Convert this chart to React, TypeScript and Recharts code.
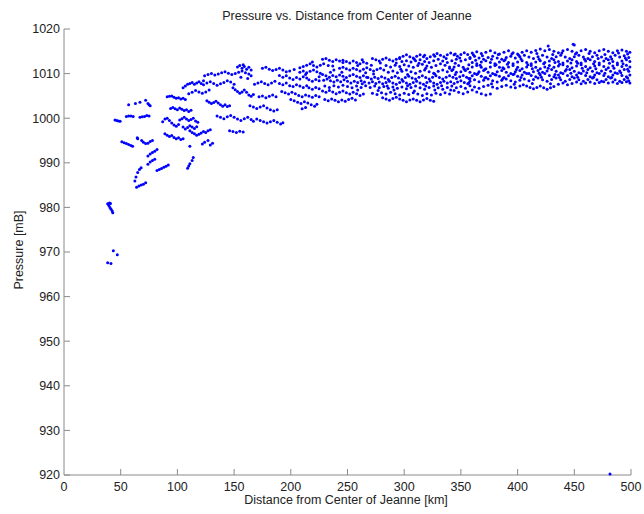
import React from 'react';
import { ScatterChart, Scatter, XAxis, YAxis, Label } from 'recharts';

type P = [number, number];

// Innermost observations (close to the storm center)
const coreObservations: P[] = [
  [38.5,980.8],[39.5,980.4],[40.5,980],[41.5,979.6],[42.5,979.2],[43,978.8],[40,981],[41,980.9],
  [43.5,970.3],[47,969.4],[38.5,967.6],[41.4,967.4],
  [45,999.6],[46.5,999.5],[48,999.4],[49.5,999.3],
  [55,1000.4],[57,1000.5],[59,1000.5],[61,1000.4],
  [67,1000.2],[69,1000.3],[71,1000.4],[73,1000.6],[75,1000.5],
  [57,1003],[63,1003.3],[67,1003.6],[72,1004],[74,1003.3],[75,1003],[76,1002.8],
  [51,994.7],[53,994.5],[55,994.3],[57,994.1],[59,993.9],[60.5,993.7],
  [64.6,995.6],[65,995.4],[68.5,995],[70,994.6],[72,994.3],[74,994.4],[76,994.8],[78,995],
  [74,991.5],[76,992],[78,992.3],[80,992.6],[82,993],
  [74,989.7],[76,990.2],[78,990.5],[80,990.8],
  [82,988.3],[84,988.5],[86,988.7],[88,989],[90,989.2],[92,989.5],
  [62.5,985.9],[63.5,986.8],[65,987.8],[66.5,988.5],[68,988.9],
  [64,984.5],[66,984.8],[68,985],[70,985.2],[72,985.5],
  [109,988.8],[110,989.3],[111,989.8],[113,990.5],[114,991.2],[111,993.7],
];

// Band from roughly 85 to 230 km
const innerBand: P[] = [
  [91,1004.8],[93,1004.9],[95,1005],[97,1004.7],[99,1004.5],[101,1004.6],[103,1004.3],[105,1004.5],[107,1004.2],
  [105,1006.8],[107,1007.2],[109,1007.6],[111,1007.8],[113,1008],[115,1007.6],[117,1007.9],[119,1008.2],[121,1007.8],[123,1008.4],
  [94,1002.2],[96,1002.4],[98,1002.1],[100,1001.9],[102,1002.3],[104,1002],[106,1001.7],[108,1001.9],[110,1001.5],[112,1001.8],
  [87,999.2],[89,999.8],[91,1000],[93,999.5],[95,998.9],[97,998.5],[99,998.2],[101,998.6],
  [102,999.6],[104,999.9],[106,1000.2],[108,999.8],[110,999.5],[112,999.7],[114,1000],[116,999.4],[118,999.1],
  [105,998],[107,997.6],[109,997.9],[111,998.3],[113,998],[115,997.7],[117,998.1],
  [89,996.5],[91,996.2],[93,995.9],[95,996.1],[97,995.7],[99,995.4],[101,995.6],[103,995.2],[105,995.4],
  [111,997.2],[113,996.8],[115,996.5],[117,996.2],[119,996.4],[121,996.7],[123,997],[125,996.8],[127,997.2],[129,997.4],
  [122,994.2],[124,994.6],[127,995],[129,994],[131,994.4],
  [124,1009.5],[127,1009.8],[130,1010],[133,1009.7],[136,1009.9],[139,1010.2],[142,1010.4],[145,1010.1],[148,1009.8],[151,1010],[154,1010.3],[157,1010.6],[160,1010.2],[163,1009.9],
  [153,1011.5],[155,1011.8],[157,1011.2],[159,1011.6],[161,1011],[163,1011.4],[165,1010.8],[158,1012],[156,1009.2],[162,1008.9],[165,1009.5],
  [123,1007.5],[126,1007.9],[129,1008.2],[132,1007.8],[135,1007.4],[138,1007.7],[141,1008],[144,1008.4],[147,1008.1],[150,1007.6],
  [110,1005.5],[113,1005.8],[116,1006.2],[119,1005.9],[122,1005.6],[125,1005.9],[128,1006.3],
  [126,1003.9],[128,1003.6],[130,1003.3],[132,1003.5],[134,1003.8],[136,1003.4],[138,1003],[140,1002.7],[142,1003],[144,1002.6],[146,1002.8],
  [135,1000.5],[138,1000.2],[141,999.9],[144,1000.3],[147,1000.6],[150,1000.2],[153,999.8],[156,999.5],[159,999.9],[162,1000.2],[165,999.7],[167,999.3],
  [149,1006.8],[151,1006.4],[153,1006],[155,1005.6],[157,1005.9],[159,1006.3],[161,1005.8],[163,1005.2],[165,1004.9],[167,1005.3],
  [164,1002.8],[167,1002.5],[170,1002.2],[173,1002.5],[176,1002.8],[179,1002.3],[182,1001.9],[185,1001.6],[188,1001.9],
  [170,999.8],[173,999.5],[176,999.2],[179,998.9],[182,999.2],[185,999.5],[188,999.1],[191,998.7],[193,999],
  [146,997.2],[149,997],[152,996.8],[155,997.1],[158,996.9],
  [175,1011.2],[178,1011.4],[181,1011],[184,1010.7],[187,1010.9],[190,1011.2],[193,1010.8],[196,1010.4],[199,1010.6],
  [190,1009.6],[193,1009.2],[196,1009.5],[199,1009],[202,1008.7],[205,1009.1],[208,1008.8],[211,1009.3],[214,1009],
  [190,1007.8],[193,1007.5],[196,1007.9],[199,1007.3],[202,1007.1],[205,1007.5],[208,1007.2],[211,1006.9],[214,1007.3],
  [192,1006],[195,1005.7],[198,1005.4],[201,1005.8],[204,1005.5],[207,1005.1],[210,1004.8],[213,1005.2],
  [200,1004.2],[203,1003.9],[206,1003.6],[209,1003.3],[212,1003.7],[215,1003.4],[218,1003],[221,1002.7],[223,1003.1],
  [208,1011.3],[211,1011.6],[214,1011.9],[217,1012.2],[220,1011.8],[223,1011.5],[226,1011.9],
  [168,1007.6],[171,1007.9],[174,1008.2],[177,1007.8],[180,1007.5],[183,1007.9],[186,1008.3],
  [172,1004.8],[175,1005],[178,1004.6],[181,1004.9],[184,1005.2],[187,1004.8],
];

// Band from roughly 200 to 360 km
const middleBand: P[] = [
  [228,1013.2],[231,1013.4],[234,1013],[237,1012.7],[240,1013.1],[243,1012.8],[246,1012.5],
  [246,1013],[249,1012.7],[252,1012.4],[255,1012.8],[258,1012.5],[261,1012.2],[264,1012.6],[267,1012.3],
  [272,1013.4],[275,1013.1],[278,1012.8],[281,1013.2],[284,1013.5],[287,1013.1],[290,1012.8],[293,1013.2],[296,1013.4],
  [246,1011.4],[249,1011.1],[252,1010.8],[255,1011.2],[258,1010.9],[261,1010.6],[264,1011],[267,1011.3],[270,1010.9],[273,1010.6],[276,1010.9],[279,1011.2],[282,1010.8],
  [208,1010.3],[211,1010.6],[214,1010.2],[217,1010.5],[220,1010.8],[223,1010.4],[226,1010.1],
  [216,1008.6],[219,1008.3],[222,1008.7],[225,1008.4],
  [216,1006.8],[219,1006.5],[222,1006.9],[225,1006.6],
  [216,1005],[219,1004.7],[222,1005.1],[225,1004.8],
  [210,1002.1],[213,1002.4],
  [228,1009.8],[231,1009.5],[234,1009.2],[237,1009.6],[240,1009.3],[243,1009.7],[246,1009.4],[249,1009.1],[252,1009.5],[255,1009.8],[258,1009.4],[261,1009.1],[264,1009.5],[267,1009.2],
  [229,1008.5],[232,1008.8],[235,1008.4],[238,1008.1],[241,1008.5],[244,1008.2],[247,1008.6],[250,1008.3],[253,1007.9],[256,1008.3],[259,1008],[262,1008.4],[265,1008.1],
  [228,1006.1],[231,1005.8],[234,1006.2],[237,1005.9],[240,1005.5],[243,1005.8],[246,1006.1],[249,1005.7],[252,1005.4],[255,1005.8],[258,1005.5],[261,1005.1],[264,1005.4],
  [230,1004.2],[233,1003.9],[236,1004.3],[239,1004],[242,1003.7],[245,1004.1],[248,1003.8],[251,1004.2],[254,1004.5],[257,1004.1],
  [230,1007.2],[234,1006.9],[238,1007.3],[242,1007],[246,1007.4],[250,1007.1],[254,1006.8],[258,1007.2],[262,1006.9],[266,1007.3],
  [268,1009.1],[271,1008.8],[274,1009.2],[277,1008.9],[280,1009.3],[283,1009],[286,1008.7],[289,1009.1],[292,1009.4],[295,1009],[298,1008.7],[301,1009.1],[304,1009.4],[307,1009],[310,1008.8],[313,1009.2],[316,1009.5],[319,1009.1],[322,1008.8],[325,1009.2],[328,1009.5],[331,1009.1],[334,1008.8],[337,1009.2],[340,1009.5],[343,1009.2],[346,1008.9],[349,1009.3],[352,1009.6],[355,1009.2],[358,1008.9],
  [269,1007.9],[272,1008.2],[275,1007.8],[278,1008.1],[281,1007.7],[284,1008],[287,1008.3],[290,1007.9],[293,1007.6],[296,1008],[299,1008.3],[302,1007.9],[305,1007.6],[308,1008],[311,1008.3],[314,1007.9],[317,1007.6],[320,1008],[323,1008.3],[326,1007.9],[329,1007.6],[332,1008],[335,1008.3],[338,1007.9],[341,1008.2],[344,1007.8],[347,1008.1],[350,1008.4],[353,1008],[356,1007.7],
  [270,1006.9],[274,1007.2],[278,1006.8],[282,1007.1],[286,1006.7],[290,1007],[294,1006.7],[298,1007],[302,1006.6],[306,1006.9],[310,1007.2],[314,1006.8],[318,1006.5],[322,1006.9],[326,1007.2],[330,1006.8],[334,1006.5],[338,1006.9],[342,1007.2],[346,1006.8],[350,1007.1],[354,1006.7],
  [281,1004.6],[284,1004.3],[287,1004],[290,1004.4],[293,1004.7],[296,1004.3],[299,1004],[302,1003.7],[305,1004.1],
  [308,1004.3],[311,1004],[314,1003.7],[317,1004.1],[320,1004.4],[323,1004],[326,1003.8],
  [272,1005.6],[276,1005.3],[280,1005.7],[284,1005.4],[288,1005.8],[292,1005.5],[296,1005.2],[300,1005.6],[304,1005.3],[308,1005.7],[312,1005.4],[316,1005.1],[320,1005.5],[324,1005.2],[328,1005.6],[332,1005.3],[336,1005.7],[340,1005.4],
  [284,1011.8],[288,1011.5],[292,1011.9],[296,1011.6],[300,1012],[304,1011.7],[308,1011.4],[312,1011.8],[316,1012.1],[320,1011.7],[324,1011.4],[328,1011.8],[332,1012.2],[336,1011.9],[340,1011.5],
  [286,1010.3],[290,1010.6],[294,1010.2],[298,1010.5],[302,1010.8],[306,1010.4],[310,1010.1],[314,1010.5],[318,1010.8],[322,1010.4],[326,1010.1],[330,1010.5],[334,1010.8],[338,1010.4],[342,1010.7],[346,1010.3],
  [296,1013.6],[299,1013.9],[302,1014.2],[305,1013.8],[308,1013.5],[311,1013.9],[314,1014.2],[317,1013.8],[320,1013.4],[323,1013.8],[326,1014.2],[329,1014.5],[332,1014.1],[335,1013.8],[338,1014.2],[341,1014.6],[344,1014.2],[347,1013.9],[350,1014.3],[353,1014.7],[356,1014.3],
  [298,1012.7],[302,1012.9],[306,1012.6],[310,1012.9],[314,1013.1],[318,1012.7],[322,1012.5],[326,1012.9],[330,1013.2],[334,1012.8],[338,1012.5],[342,1012.9],[346,1013.2],[350,1012.8],[354,1013.1],[358,1013.4],
];

// Outer band from roughly 340 to 500 km
const outerBand: P[] = [
  [360,1014.6],[364,1014.9],[368,1014.5],[372,1014.8],[376,1015.1],[380,1014.7],[384,1014.4],[388,1014.8],[392,1015.1],[396,1014.7],[400,1014.4],[404,1014.8],[408,1015.1],[412,1014.8],[416,1015.2],[420,1015.5],[424,1015.1],[428,1015.4],[432,1015],[436,1014.7],[440,1015.1],[444,1015.4],[448,1015],[452,1014.7],[456,1015.1],[460,1015.4],[464,1015],[468,1014.7],[472,1015.1],[476,1015.4],[480,1015],[484,1014.7],[488,1015.1],[492,1015.3],[496,1015],[499,1014.8],
  [358,1013.6],[362,1013.9],[366,1013.5],[370,1013.2],[374,1013.6],[378,1013.9],[382,1013.5],[386,1013.2],[390,1013.6],[394,1013.9],[398,1013.5],[402,1013.8],[406,1014.1],[410,1013.7],[414,1013.4],[418,1013.8],[422,1014.1],[426,1013.7],[430,1013.4],[434,1013.8],[438,1014.1],[442,1013.7],[446,1013.4],[450,1013.8],[454,1014.1],[458,1013.7],[462,1013.4],[466,1013.8],[470,1014.1],[474,1013.7],[478,1013.4],[482,1013.8],[486,1014.1],[490,1013.7],[494,1014],[498,1013.6],
  [360,1012.5],[364,1012.2],[368,1012.6],[372,1012.9],[376,1012.5],[380,1012.2],[384,1012.6],[388,1012.9],[392,1012.5],[396,1012.2],[400,1012.6],[404,1012.9],[408,1012.5],[412,1012.2],[416,1012.6],[420,1012.9],[424,1012.5],[428,1012.8],[432,1013.1],[436,1012.7],[440,1012.4],[444,1012.8],[448,1013.1],[452,1012.7],[456,1012.4],[460,1012.8],[464,1013.1],[468,1012.7],[472,1012.4],[476,1012.8],[480,1013.1],[484,1012.7],[488,1012.4],[492,1012.8],[496,1013.1],[499,1012.7],
  [340,1011.2],[344,1011.5],[348,1011.8],[352,1011.4],[356,1011.1],[360,1011.5],[364,1011.8],[368,1011.4],[372,1011.1],[376,1011.5],[380,1011.8],[384,1011.4],[388,1011.1],[392,1011.5],[396,1011.8],[400,1011.4],[404,1011.1],[408,1011.5],[412,1011.8],[416,1011.4],[420,1011.1],[424,1011.5],[428,1011.8],[432,1011.4],[436,1011.7],[440,1012],[444,1011.6],[448,1011.3],[452,1011.7],[456,1012],[460,1011.6],[464,1011.3],[468,1011.7],[472,1012],[476,1011.6],[480,1011.3],[484,1011.7],[488,1012],[492,1011.6],[496,1011.9],[499,1011.5],
  [350,1010.4],[354,1010.7],[358,1010.3],[362,1010],[366,1010.4],[370,1010.7],[374,1010.3],[378,1010],[382,1010.4],[386,1010.7],[390,1010.3],[394,1010],[398,1010.4],[402,1010.7],[406,1010.3],[410,1010],[414,1010.4],[418,1010.7],[422,1010.3],[426,1010.6],[430,1010.9],[434,1010.5],[438,1010.2],[442,1010.6],[446,1010.9],[450,1010.5],[454,1010.2],[458,1010.6],[462,1010.9],[466,1010.5],[470,1010.2],[474,1010.6],[478,1010.9],[482,1010.5],[486,1010.2],[490,1010.6],[494,1010.9],[498,1010.5],
  [360,1009.5],[364,1009.8],[368,1009.4],[372,1009.1],[376,1009.5],[380,1009.8],[384,1009.4],[388,1009.1],[392,1009.5],[396,1009.8],[400,1009.4],[404,1009.7],[408,1010],[412,1009.6],[416,1009.3],[420,1009.7],[424,1010],[428,1009.6],[432,1009.3],[436,1009.7],[440,1010],[444,1009.6],[448,1009.3],[452,1009.7],[456,1010],[460,1009.6],[464,1009.3],[468,1009.7],[472,1010],[476,1009.6],[480,1009.3],[484,1009.7],[488,1010],[492,1009.6],[496,1009.3],[499,1009.7],
  [358,1008.3],[362,1008.6],[366,1008.2],[370,1008.5],[374,1008.8],[378,1008.4],[382,1008.1],[386,1008.5],[390,1008.8],[394,1008.4],[398,1008.1],[402,1008.5],[406,1008.8],[410,1008.4],[414,1008.7],[418,1009],[422,1008.6],[426,1008.3],[430,1008.7],[434,1009],[438,1008.6],[442,1008.3],[446,1008.7],[450,1009],[454,1008.6],[458,1008.3],[462,1008.7],[466,1009],[470,1008.6],[474,1008.3],[478,1008.7],[482,1009],[486,1008.6],[490,1008.3],[494,1008.7],[498,1008.4],
  [460,1007.9],[464,1008.1],[468,1007.8],[472,1008],[476,1008.2],[480,1007.9],[484,1008.1],[488,1007.8],[492,1008],[496,1008.2],[499,1007.9],
  [344,1006.2],[348,1005.8],[352,1005.5],[356,1005.9],[360,1006.3],[364,1005.9],[368,1005.5],[372,1005.2],[376,1005.4],
  [358,1007.3],[362,1007],[366,1006.7],[370,1007.1],[374,1007.4],[378,1007],[382,1006.7],[386,1007.1],[390,1007.4],[394,1007],[398,1006.8],[402,1007.2],
  [405,1007.5],[408,1007.2],[411,1006.9],[414,1006.6],[417,1006.9],[420,1007.2],[423,1006.8],[426,1006.5],[429,1006.8],[432,1007.1],
  [436,1007.6],[440,1007.9],[444,1007.5],[448,1007.8],[452,1008.1],[456,1007.7],
];

// Scattered readings between the main tracks
const fillerObservations: P[] = [
  [318,1014.1],[327,1013.9],[345,1014.4],[361,1014.2],[369,1014],[383,1014.3],[395,1014.4],[401,1014.1],[417,1014.5],[431,1014.3],[439,1014.6],[451,1014.4],[463,1014.5],[477,1014.3],[489,1014.6],[497,1014.4],
  [263,1013.1],[279,1012.4],[309,1013.2],[337,1013.4],[349,1013.5],[363,1013],[377,1013.2],[389,1013.1],[403,1013.3],[419,1013.2],[433,1012.5],[447,1012.4],[459,1013.2],[471,1013.4],[483,1013.3],[495,1013.5],
  [233,1011.8],[259,1011.8],[271,1011.9],[293,1012.4],[313,1012.3],[345,1012.3],[357,1012],[367,1011.9],[381,1012],[391,1012.1],[409,1012],[423,1012.2],[437,1012.1],[453,1012.3],[467,1012.2],[481,1012.3],[493,1012.2],
  [238,1010.8],[266,1010.2],[297,1011],[319,1011.2],[343,1010.9],[353,1011],[371,1010.9],[387,1011.3],[399,1010.9],[413,1011.1],[427,1011.2],[443,1010.9],[457,1011.2],[469,1011.1],[485,1011.2],[497,1011],
  [273,1009.9],[303,1009.8],[327,1009.9],[345,1009.8],[365,1010],[381,1009.7],[397,1009.9],[419,1010.1],[433,1009.8],[447,1010.1],[461,1010.2],[477,1010.1],[491,1010.2],
  [357,1008.9],[371,1009],[387,1008.9],[403,1009.1],[421,1009.2],[437,1009.1],[453,1009.2],[467,1009.2],[483,1009.1],[497,1009],
  [259,1006.3],[277,1006.2],[291,1006.3],[309,1006.1],[327,1006.3],[341,1006.3],[263,1007.7],[285,1007.2],[303,1007.3],[319,1007.2],[333,1007.3],[357,1007.9],[377,1007.7],[397,1007.6],[413,1007.8],[429,1007.7],
  [219,1012.6],[229,1012.2],[237,1011.7],[243,1011.2],[203,1010.9],[213,1009.8],[225,1009.3],[235,1010.3],[245,1010.3],
];

// Isolated readings
const strayPoints: P[] = [[481.5,920.2],[427,1016.2],[449,1016.6],[450,1016.4]];

const xTicks = [0, 50, 100, 150, 200, 250, 300, 350, 400, 450, 500];
const yTicks = [920, 930, 940, 950, 960, 970, 980, 990, 1000, 1010, 1020];

const allPoints = [...coreObservations, ...innerBand, ...middleBand, ...outerBand, ...fillerObservations, ...strayPoints]
  .map(([distance, pressure]) => ({ distance, pressure }));

const AXIS = '#8a8a8a';
const TEXT = '#222';
const FONT = '"Liberation Sans", Arial, sans-serif';
const FS = 12.5;

const Dot = (props: any) => (
  <circle cx={props.cx} cy={props.cy} r={1.5} fill="#0000ff" />
);

const YTick = (props: any) => {
  const { x, y, payload } = props;
  return (
    <g>
      <line x1={x + 4} x2={x + 10} y1={y} y2={y} stroke={AXIS} strokeWidth={1} />
      <text x={x} y={y} dy="0.35em" textAnchor="end" fill={TEXT} fontFamily={FONT} fontSize={FS}>
        {payload.value}
      </text>
    </g>
  );
};

const XTick = (props: any) => {
  const { x, y, payload } = props;
  return (
    <g>
      {payload.value !== 0 && (
        <line x1={x} x2={x} y1={y - 4} y2={y - 10} stroke={AXIS} strokeWidth={1} />
      )}
      <text x={x} y={y + 12} textAnchor="middle" fill={TEXT} fontFamily={FONT} fontSize={FS}>
        {payload.value}
      </text>
    </g>
  );
};

export default function App() {
  return (
    <div style={{ position: 'absolute', left: 0, top: 0, width: 644, height: 514, background: '#fff' }}>
      <ScatterChart width={644} height={514} margin={{ top: 29, right: 13, bottom: 0, left: 0 }}>
        <XAxis
          type="number"
          dataKey="distance"
          domain={[0, 500]}
          ticks={xTicks}
          interval={0}
          height={39}
          tickSize={0}
          tickMargin={4}
          tickLine={false}
          axisLine={{ stroke: AXIS, strokeWidth: 1 }}
          tick={<XTick />}
        >
          <Label
            content={() => (
              <text x={346} y={504} textAnchor="middle" fill={TEXT} fontFamily={FONT} fontSize={FS}>
                Distance from Center of Jeanne [km]
              </text>
            )}
          />
        </XAxis>
        <YAxis
          type="number"
          dataKey="pressure"
          domain={[920, 1020]}
          ticks={yTicks}
          interval={0}
          width={64}
          tickSize={0}
          tickMargin={4}
          tickLine={false}
          axisLine={{ stroke: AXIS, strokeWidth: 1 }}
          tick={<YTick />}
        >
          <Label
            content={() => (
              <text
                x={23}
                y={250}
                textAnchor="middle"
                transform="rotate(-90 23 250)"
                fill={TEXT}
                fontFamily={FONT}
                fontSize={FS}
              >
                Pressure [mB]
              </text>
            )}
          />
        </YAxis>
        <Scatter data={allPoints} shape={<Dot />} isAnimationActive={false} />
      </ScatterChart>
      <div
        style={{
          position: 'absolute',
          left: 0,
          width: 694,
          top: 9,
          textAlign: 'center',
          fontFamily: FONT,
          fontSize: FS,
          color: TEXT,
          lineHeight: '15px',
        }}
      >
        Pressure vs. Distance from Center of Jeanne
      </div>
    </div>
  );
}
